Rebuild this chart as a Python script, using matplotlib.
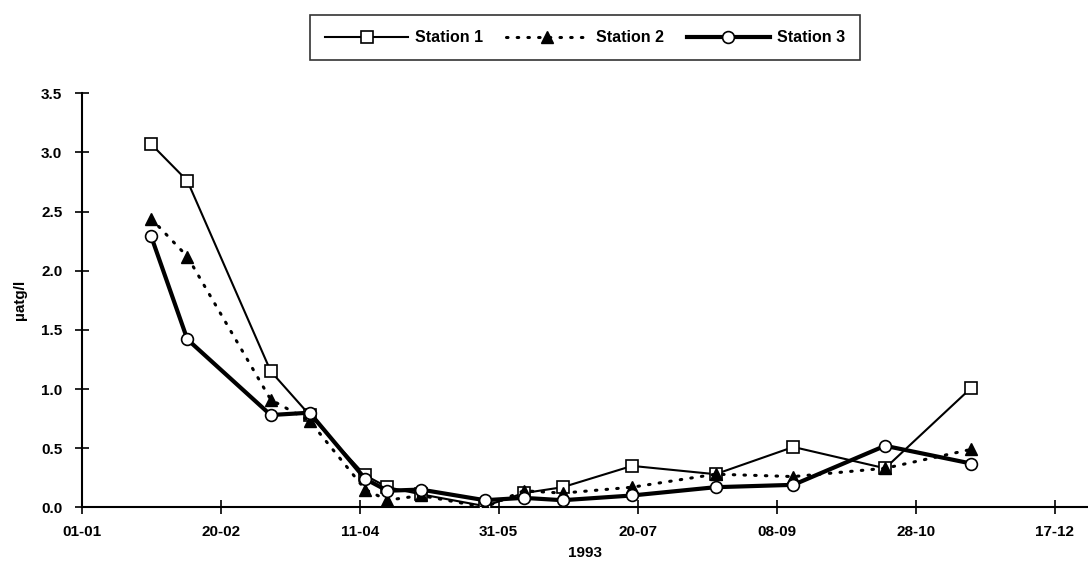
import matplotlib
matplotlib.use('Agg')
import matplotlib.pyplot as plt

# sampling days counted from 01-01-1993
days = [25, 38, 68, 82, 102, 110, 122, 145, 159, 173, 198, 228, 256, 289, 320]

station1 = [3.07, 2.76, 1.15, 0.78, 0.27, 0.17, 0.11, 0.01, 0.12, 0.17, 0.35, 0.28, 0.51, 0.33, 1.01]
station2 = [2.44, 2.12, 0.91, 0.73, 0.15, 0.06, 0.10, 0.00, 0.14, 0.12, 0.17, 0.28, 0.26, 0.33, 0.49]
station3 = [2.29, 1.42, 0.78, 0.80, 0.24, 0.14, 0.15, 0.06, 0.08, 0.06, 0.10, 0.17, 0.19, 0.52, 0.37]

tick_days = [0, 50, 100, 150, 200, 250, 300, 350]
tick_labels = ['01-01', '20-02', '11-04', '31-05', '20-07', '08-09', '28-10', '17-12']
y_ticks = [0.0, 0.5, 1.0, 1.5, 2.0, 2.5, 3.0, 3.5]

plt.rcParams['font.family'] = ['Liberation Sans', 'DejaVu Sans']

fig = plt.figure(figsize=(10.88, 5.61), dpi=100)
ax = fig.add_axes([0.0751, 0.0957, 0.9249, 0.738])

ax.plot(days, station1, color='black', lw=1.5, marker='s', ms=8,
        mfc='white', mec='black', mew=1.2, label='Station 1', zorder=3)
ax.plot(days, station2, color='black', lw=2.2, linestyle=(0, (0.5, 3)),
        dash_capstyle='round', marker='^', ms=8, mfc='black', mec='black',
        label='Station 2', zorder=4)
ax.plot(days, station3, color='black', lw=3.0, marker='o', ms=8.5,
        mfc='white', mec='black', mew=1.2, label='Station 3', zorder=5)

ax.set_xlim(0, 362)
ax.set_ylim(0, 3.5)
ax.set_xticks(tick_days)
ax.set_xticklabels(tick_labels)
ax.set_yticks(y_ticks)
ax.set_yticklabels(['%.1f' % v for v in y_ticks])

for s in ['top', 'right']:
    ax.spines[s].set_visible(False)
for s in ['left', 'bottom']:
    ax.spines[s].set_linewidth(1.5)

ax.tick_params(direction='inout', length=10, width=1.2, labelsize=11)
ax.tick_params(axis='x', pad=8)
ax.tick_params(axis='y', pad=9)
for lab in ax.get_xticklabels() + ax.get_yticklabels():
    lab.set_fontweight('bold')

ax.set_xlabel('1993', fontsize=11, fontweight='bold', labelpad=5)
ax.set_ylabel('µatg/l', fontsize=11, fontweight='bold', labelpad=10)

leg = fig.legend(loc='center', ncol=3, bbox_to_anchor=(0.5377, 0.9326),
                 frameon=True, fancybox=False,
                 prop={'size': 11.5, 'weight': 'bold'},
                 handlelength=5.2, handletextpad=0.45, columnspacing=1.4,
                 numpoints=1, borderpad=0.95)
leg.get_frame().set_edgecolor('black')
leg.get_frame().set_linewidth(1.2)

fig.savefig('out.png', dpi=100)
